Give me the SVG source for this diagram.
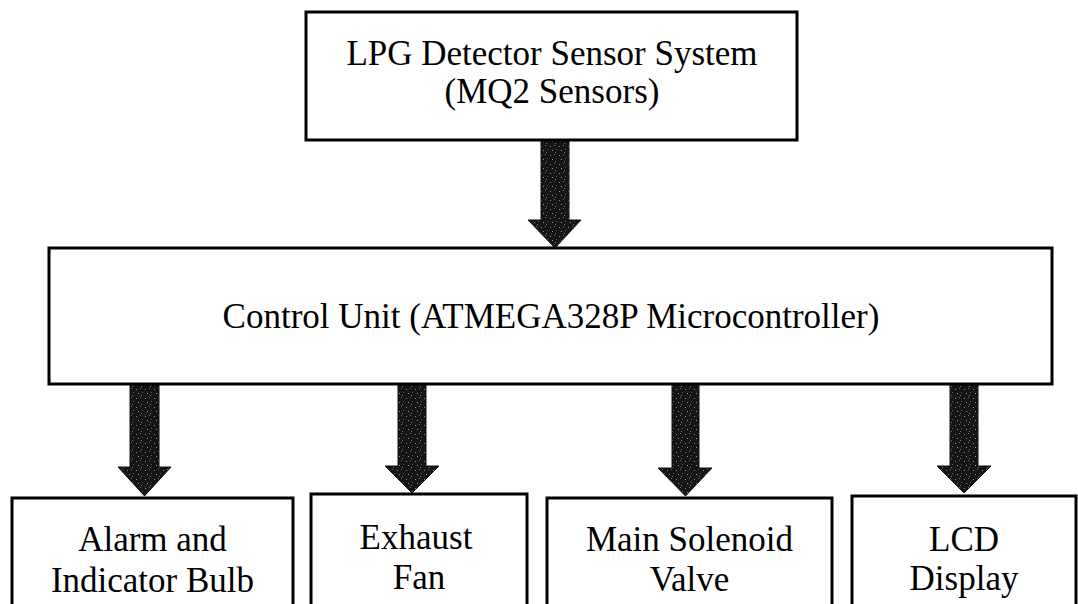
<svg xmlns="http://www.w3.org/2000/svg" width="1078" height="604" viewBox="0 0 1078 604">
  <defs>
    <!-- speckled dark fill used for the block arrows -->
    <pattern id="speckle" width="9" height="9" patternUnits="userSpaceOnUse">
      <rect width="9" height="9" fill="#151515"/>
      <rect x="1" y="2" width="1" height="1" fill="#8a8a8a"/>
      <rect x="5" y="1" width="1" height="1" fill="#6c6c6c"/>
      <rect x="3" y="6" width="1" height="1" fill="#9a9a9a"/>
      <rect x="7" y="5" width="1" height="1" fill="#5a5a5a"/>
      <rect x="6" y="8" width="1" height="1" fill="#7a7a7a"/>
    </pattern>
    <style>
      .box { fill: #ffffff; stroke: #000000; stroke-width: 3; }
      .label { font-family: "Liberation Serif", "Times New Roman", serif; font-size: 35px; fill: #000000; text-anchor: middle; }
      .arrow { fill: url(#speckle); stroke: #111111; stroke-width: 1; }
    </style>
  </defs>

  <rect width="1078" height="604" fill="#ffffff"/>

  <!-- block arrows between the units -->
  <g id="connectors">
    <path class="arrow" d="M541,141 H569 V220 H581 L555,248 L528,220 H541 Z"/>
    <path class="arrow" d="M130,385 H159 V467 H171 L144.5,496 L118,467 H130 Z"/>
    <path class="arrow" d="M398,385 H426 V466 H439 L412,493 L385,466 H398 Z"/>
    <path class="arrow" d="M672,385 H699 V468 H712 L685.5,496 L658,468 H672 Z"/>
    <path class="arrow" d="M950,385 H978 V466 H991 L964,493 L937,466 H950 Z"/>
  </g>

  <g id="sensor">
    <rect class="box" x="306" y="12" width="491" height="128"/>
    <text class="label" x="552" y="65">LPG Detector Sensor System</text>
    <text class="label" x="552" y="103">(MQ2 Sensors)</text>
  </g>

  <g id="control-unit">
    <rect class="box" x="49" y="248" width="1003" height="136"/>
    <text class="label" x="551" y="328">Control Unit (ATMEGA328P Microcontroller)</text>
  </g>

  <g id="alarm">
    <rect class="box" x="12" y="498" width="281" height="120"/>
    <text class="label" x="152.5" y="551">Alarm and</text>
    <text class="label" x="152.5" y="592">Indicator Bulb</text>
  </g>

  <g id="exhaust-fan">
    <rect class="box" x="311" y="494" width="216" height="124"/>
    <text class="label" x="416" y="549">Exhaust</text>
    <text class="label" x="419" y="589">Fan</text>
  </g>

  <g id="solenoid-valve">
    <rect class="box" x="547" y="498" width="285" height="120"/>
    <text class="label" x="689.5" y="551">Main Solenoid</text>
    <text class="label" x="689.5" y="591">Valve</text>
  </g>

  <g id="lcd-display">
    <rect class="box" x="852" y="496" width="224" height="122"/>
    <text class="label" x="964" y="551">LCD</text>
    <text class="label" x="964" y="590">Display</text>
  </g>
</svg>
